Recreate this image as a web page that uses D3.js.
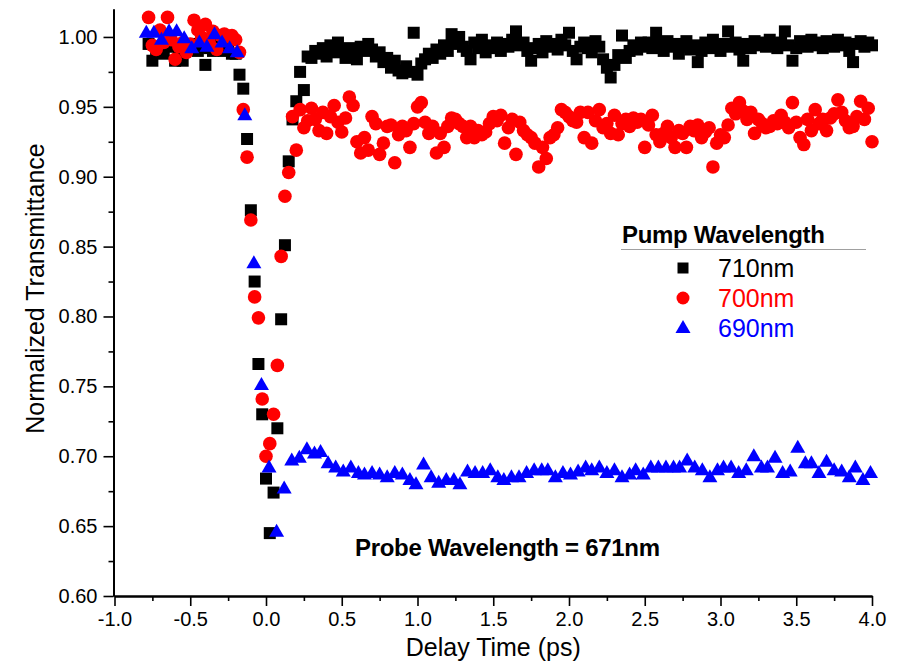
<!DOCTYPE html>
<html>
<head>
<meta charset="utf-8">
<script src="https://cdn.jsdelivr.net/npm/d3@7"></script>
<style>
  body { margin: 0; background: #fff; }
  svg { display: block; }
  text { font-family: "Liberation Sans", Arial, Helvetica, sans-serif; }
</style>
</head>
<body>
<svg id="chart" width="899" height="663"></svg>
<script>
// Delay grid (ps) shared by the 710 nm and 700 nm pump scans
const delay = [
  -0.775,-0.75,-0.725,-0.7,-0.675,-0.65,-0.625,-0.6,-0.575,-0.55,-0.525,-0.5,-0.475,-0.45,-0.425,-0.4,
  -0.375,-0.35,-0.325,-0.3,-0.275,-0.25,-0.225,-0.2,-0.175,-0.15,-0.125,-0.1,-0.075,-0.05,-0.025,0,
  0.025,0.05,0.075,0.1,0.125,0.15,0.175,0.2,0.225,0.25,0.275,
  0.3,0.325,0.35,0.375,0.4,0.425,0.45,0.475,
  0.5,0.525,0.55,0.575,0.6,0.625,0.65,0.675,
  0.7,0.725,0.75,0.775,0.8,0.825,0.85,0.875,
  0.9,0.925,0.95,0.975,1.0,1.025,1.05,1.075,
  1.1,1.125,1.15,1.175,1.2,1.225,1.25,1.275,
  1.3,1.325,1.35,1.375,1.4,1.425,1.45,1.475,
  1.5,1.525,1.55,1.575,1.6,1.625,1.65,1.675,
  1.7,1.725,1.75,1.775,1.8,1.825,1.85,1.875,
  1.9,1.925,1.95,1.975,2.0,2.025,2.05,2.075,
  2.1,2.125,2.15,2.175,2.2,2.225,2.25,2.275,
  2.3,2.325,2.35,2.375,2.4,2.425,2.45,2.475,
  2.5,2.525,2.55,2.575,2.6,2.625,2.65,2.675,
  2.7,2.725,2.75,2.775,2.8,2.825,2.85,2.875,
  2.9,2.925,2.95,2.975,3.0,3.025,3.05,3.075,
  3.1,3.125,3.15,3.175,3.2,3.225,3.25,3.275,
  3.3,3.325,3.35,3.375,3.4,3.425,3.45,3.475,
  3.5,3.525,3.55,3.575,3.6,3.625,3.65,3.675,
  3.7,3.725,3.75,3.775,3.8,3.825,3.85,3.875,
  3.9,3.925,3.95,3.975,4.0
];

// Normalized transmittance, 710 nm pump
const trans710 = [
  0.995,0.983,0.990,0.992,0.988,0.993,0.995,0.983,0.990,0.983,0.993,0.992,0.995,0.990,0.993,0.980,
  0.992,0.990,0.993,0.995,0.990,0.992,0.988,0.988,0.973,0.963,0.927,0.876,0.825,0.766,0.730,0.684,
  0.645,0.674,0.720,0.798,0.851,0.911,0.941,0.954,0.975,0.962,0.986,
  0.985,0.990,0.988,0.992,0.986,0.994,0.989,0.996,
  0.990,0.985,0.992,0.988,0.984,0.993,0.990,0.995,
  0.991,0.986,0.989,0.982,0.985,0.978,0.983,0.976,
  0.974,0.979,0.975,1.003,0.973,0.981,0.984,0.988,
  0.985,0.991,0.988,0.994,0.990,1.002,0.995,1.000,
  0.993,0.990,0.984,0.996,0.992,0.998,0.989,0.994,
  0.992,0.996,0.990,0.995,0.993,0.998,1.004,0.994,
  0.996,0.990,0.983,0.992,0.995,0.989,0.997,0.993,
  0.995,0.991,0.998,0.994,1.003,0.990,0.984,0.993,
  0.996,0.992,0.989,0.997,0.993,0.984,0.978,0.971,
  0.980,0.987,1.001,0.985,0.990,0.994,0.991,0.996,
  0.993,0.996,0.992,1.003,0.995,0.990,0.997,0.993,
  0.995,0.988,0.993,0.997,0.991,0.994,0.982,0.990,
  0.996,0.992,0.998,0.994,0.990,0.995,1.004,0.993,
  0.996,0.991,0.983,0.995,0.992,0.997,0.994,0.996,
  0.993,0.998,0.995,0.992,0.996,1.004,0.994,0.983,
  0.992,0.997,0.995,0.993,0.998,0.994,0.996,0.992,
  0.997,0.995,0.993,0.998,0.994,0.996,0.990,0.982,
  0.995,0.997,0.993,0.996,0.994
];

// Normalized transmittance, 700 nm pump
const trans700 = [
  1.014,0.994,0.991,1.005,0.996,1.014,0.998,0.984,0.993,0.996,0.989,0.995,1.012,1.005,1.000,1.009,
  0.996,1.004,0.991,1.001,1.002,1.000,1.001,0.998,0.989,0.948,0.914,0.869,0.814,0.799,0.741,0.700,
  0.709,0.730,0.765,0.843,0.886,0.903,0.943,0.919,0.948,0.935,0.940,
  0.949,0.941,0.933,0.946,0.931,0.943,0.951,0.939,
  0.932,0.942,0.957,0.951,0.925,0.917,0.928,0.919,
  0.943,0.938,0.916,0.924,0.936,0.937,0.910,0.930,
  0.936,0.933,0.921,0.938,0.950,0.953,0.939,0.931,
  0.936,0.917,0.931,0.921,0.936,0.942,0.941,0.938,
  0.936,0.928,0.936,0.928,0.933,0.930,0.932,0.938,
  0.943,0.940,0.944,0.924,0.935,0.941,0.916,0.939,
  0.933,0.930,0.928,0.924,0.907,0.921,0.913,0.928,
  0.930,0.935,0.948,0.946,0.943,0.940,0.939,0.946,
  0.928,0.946,0.924,0.940,0.948,0.935,0.938,0.931,
  0.944,0.930,0.938,0.941,0.936,0.942,0.939,0.941,
  0.921,0.937,0.944,0.930,0.925,0.931,0.936,0.928,
  0.921,0.933,0.931,0.921,0.936,0.933,0.937,0.928,
  0.932,0.935,0.907,0.924,0.930,0.928,0.937,0.949,
  0.945,0.953,0.947,0.941,0.946,0.931,0.941,0.938,
  0.935,0.936,0.940,0.938,0.944,0.939,0.935,0.953,
  0.939,0.928,0.923,0.941,0.933,0.948,0.938,0.941,
  0.933,0.942,0.945,0.955,0.946,0.940,0.935,0.936,
  0.943,0.954,0.941,0.949,0.925
];

// Delay grid (ps) and normalized transmittance, 690 nm pump
const delay690 = [
  -0.79,-0.74,-0.69,-0.64,-0.59,-0.54,-0.49,-0.44,-0.39,-0.34,-0.29,-0.24,-0.19,
  -0.14,-0.08,-0.03,0.02,0.07,0.12,
  0.17,0.22,0.27,0.32,0.36,0.41,0.46,0.51,0.56,0.61,
  0.65,0.70,0.75,0.80,0.85,0.90,0.95,0.99,1.04,1.09,
  1.14,1.19,1.24,1.28,1.33,1.38,1.43,1.48,1.53,1.57,
  1.62,1.67,1.72,1.77,1.82,1.86,1.91,1.96,2.01,2.06,
  2.11,2.15,2.20,2.25,2.30,2.35,2.40,2.44,2.49,2.54,
  2.59,2.64,2.69,2.73,2.78,2.83,2.88,2.93,2.98,3.02,
  3.07,3.12,3.17,3.22,3.27,3.31,3.36,3.41,3.46,3.51,
  3.56,3.60,3.65,3.70,3.75,3.80,3.85,3.89,3.94,3.99
];
const trans690 = [
  1.003,1.003,0.998,1.004,1.004,0.999,0.992,0.996,0.993,1.002,0.996,0.992,0.989,
  0.944,0.838,0.751,0.692,0.646,0.677,
  0.697,0.699,0.705,0.702,0.703,0.695,0.692,0.689,0.692,0.688,
  0.687,0.688,0.687,0.685,0.688,0.687,0.683,0.680,0.694,0.685,
  0.681,0.683,0.683,0.680,0.689,0.688,0.688,0.690,0.685,0.683,
  0.685,0.685,0.688,0.690,0.690,0.690,0.685,0.688,0.687,0.689,
  0.692,0.690,0.692,0.688,0.690,0.685,0.687,0.690,0.687,0.692,
  0.692,0.692,0.692,0.692,0.697,0.692,0.690,0.685,0.690,0.692,
  0.692,0.688,0.690,0.700,0.692,0.692,0.699,0.688,0.689,0.706,
  0.695,0.695,0.688,0.696,0.690,0.689,0.685,0.692,0.683,0.688
];

const xTicks = [-1.0,-0.5,0.0,0.5,1.0,1.5,2.0,2.5,3.0,3.5,4.0];
const xMinorTicks = [-0.75,-0.25,0.25,0.75,1.25,1.75,2.25,2.75,3.25,3.75];
const yTicks = [0.60,0.65,0.70,0.75,0.80,0.85,0.90,0.95,1.00];
const yMinorTicks = [0.625,0.675,0.725,0.775,0.825,0.875,0.925,0.975];
const legendTitle = "Pump Wavelength";
const legendLabels = ["710nm","700nm","690nm"];
const seriesColors = ["#000000","#ff0000","#0000ff"];
const probeNote = "Probe Wavelength = 671nm";

const svg = d3.select("#chart");
svg.append("rect").attr("width", 899).attr("height", 663).attr("fill", "#fff");

const x = d3.scaleLinear().domain([-1, 4]).range([114.5, 872]);
const y = d3.scaleLinear().domain([0.6, 1.02]).range([596, 9]);

// Axes: minor ticks first, then major ticks with labels
function styleAxis(g) {
  g.select(".domain").attr("stroke", "#000").attr("stroke-width", 2);
  g.selectAll(".tick line").attr("stroke", "#000").attr("stroke-width", 1.6);
  g.selectAll(".tick text").attr("fill", "#000").attr("font-size", 20)
    .attr("font-family", "'Liberation Sans', Arial, sans-serif");
}

const axisY = y(0.6);
svg.append("g").attr("transform", `translate(0,${axisY})`)
  .call(d3.axisBottom(x).tickValues(xMinorTicks).tickSize(5).tickSizeOuter(0).tickFormat(""))
  .call(styleAxis);
svg.append("g").attr("transform", `translate(0,${axisY})`)
  .call(d3.axisBottom(x).tickValues(xTicks).tickSize(10).tickSizeOuter(0).tickPadding(6)
    .tickFormat(d => d.toFixed(1)))
  .call(styleAxis);

const axisX = x(-1);
svg.append("g").attr("transform", `translate(${axisX - 1},0)`)
  .call(d3.axisLeft(y).tickValues(yMinorTicks).tickSize(5).tickSizeOuter(0).tickFormat(""))
  .call(styleAxis);
svg.append("g").attr("transform", `translate(${axisX - 1},0)`)
  .call(d3.axisLeft(y).tickValues(yTicks).tickSize(10).tickSizeOuter(0).tickPadding(6)
    .tickFormat(d => d.toFixed(2)))
  .call(styleAxis);

// Axis titles
svg.append("text")
  .attr("x", (x(-1) + x(4)) / 2).attr("y", 656)
  .attr("text-anchor", "middle").attr("font-size", 25).attr("fill", "#000")
  .text("Delay Time (ps)");
svg.append("text")
  .attr("transform", `translate(44,${(y(0.6) + y(1.02)) / 2 - 14}) rotate(-90)`)
  .attr("text-anchor", "middle").attr("font-size", 25).attr("fill", "#000")
  .text("Normalized Transmittance");

// Marker shapes
const squarePath = "M-6,-6H6V6H-6Z";
const trianglePath = "M0,-8L7.5,5L-7.5,5Z";

const plot = svg.append("g");

plot.selectAll("path.s710").data(delay.map((t, i) => [t, trans710[i]]))
  .join("path").attr("class", "s710")
  .attr("d", squarePath)
  .attr("transform", d => `translate(${x(d[0])},${y(d[1])})`)
  .attr("fill", seriesColors[0]);

plot.selectAll("circle.s700").data(delay.map((t, i) => [t, trans700[i]]))
  .join("circle").attr("class", "s700")
  .attr("cx", d => x(d[0])).attr("cy", d => y(d[1])).attr("r", 6.8)
  .attr("fill", seriesColors[1]);

plot.selectAll("path.s690").data(delay690.map((t, i) => [t, trans690[i]]))
  .join("path").attr("class", "s690")
  .attr("d", trianglePath)
  .attr("transform", d => `translate(${x(d[0])},${y(d[1])})`)
  .attr("fill", seriesColors[2]);

// Legend
const legend = svg.append("g");
legend.append("text").attr("x", 622).attr("y", 243)
  .attr("font-size", 24).attr("font-weight", "bold").attr("fill", "#000")
  .attr("letter-spacing", -0.3)
  .text(legendTitle);
legend.append("line").attr("x1", 621).attr("x2", 866).attr("y1", 249.5).attr("y2", 249.5)
  .attr("stroke", "#a0a0a0").attr("stroke-width", 1);

const legendRows = legendLabels.map((label, i) => ({ label, color: seriesColors[i], i }));
const rowY = i => 268 + i * 30;
legendRows.forEach(r => {
  if (r.i === 0) {
    legend.append("path").attr("d", "M-5.5,-5.5H5.5V5.5H-5.5Z")
      .attr("transform", `translate(683,${rowY(r.i)})`).attr("fill", r.color);
  } else if (r.i === 1) {
    legend.append("circle").attr("cx", 683).attr("cy", rowY(r.i)).attr("r", 6.5).attr("fill", r.color);
  } else {
    legend.append("path").attr("d", trianglePath)
      .attr("transform", `translate(683,${rowY(r.i)})`).attr("fill", r.color);
  }
  legend.append("text").attr("x", 718).attr("y", rowY(r.i) + 9)
    .attr("font-size", 25).attr("fill", r.color)
    .text(r.label);
});

// Probe wavelength annotation
svg.append("text").attr("x", 355).attr("y", 556)
  .attr("font-size", 24).attr("font-weight", "bold").attr("fill", "#000")
  .attr("letter-spacing", -0.3)
  .text(probeNote);
</script>
</body>
</html>
